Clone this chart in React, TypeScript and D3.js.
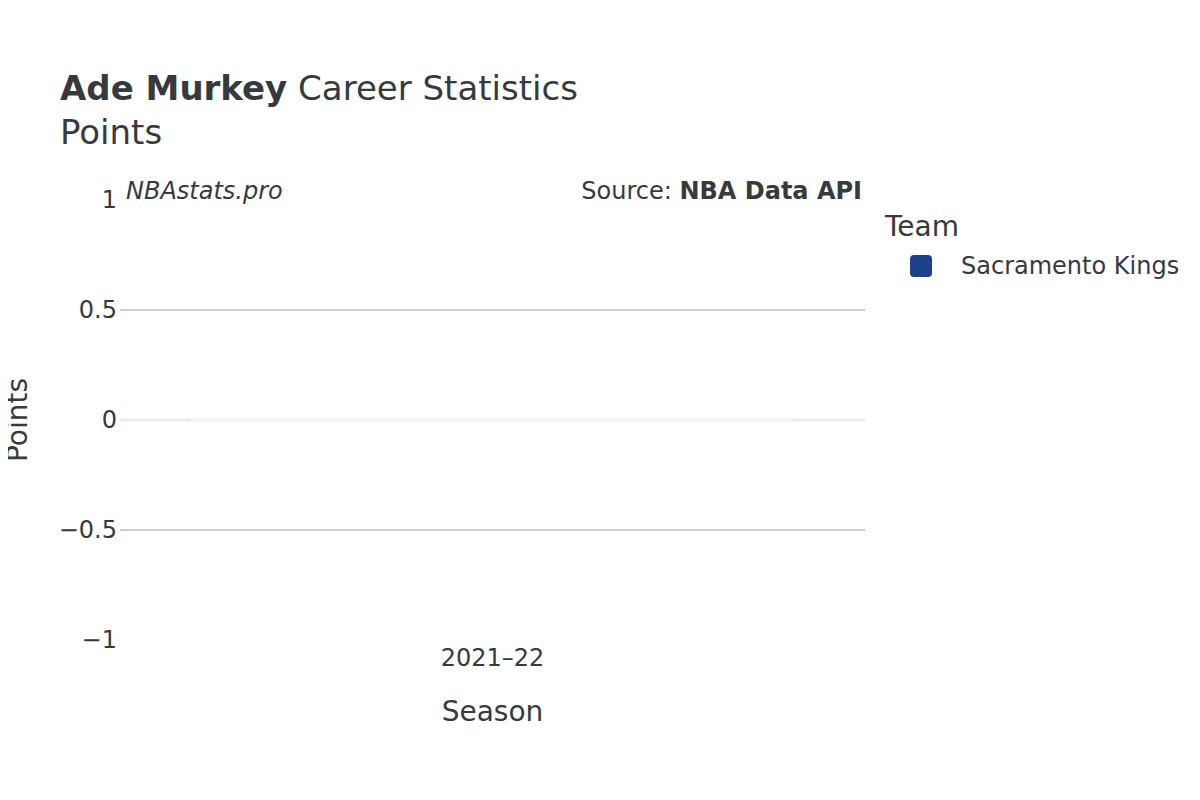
import { useEffect, useRef } from 'react';
import * as d3 from 'd3';

const seasons = ['2021–22'];
const teams = ['Sacramento Kings'];
const teamColors = ['#1d428a'];
const points = [0];
const yTicks = [-1, -0.5, 0, 0.5, 1];

const App = () => {
  const svgRef = useRef<SVGSVGElement>(null);

  useEffect(() => {
    const width = 1200;
    const height = 800;
    const margin = { top: 200, right: 335, bottom: 160, left: 120 };
    const chartWidth = width - margin.left - margin.right;
    const chartHeight = height - margin.top - margin.bottom;
    const font = '"DejaVu Sans", "Open Sans", sans-serif';
    const textColor = '#363a3d';

    const root = d3.select(svgRef.current);
    root.selectAll('*').remove();
    root.attr('width', width).attr('height', height).style('font-family', font);

    root.append('rect').attr('width', width).attr('height', height).attr('fill', '#fff');

    const svg = root.append('g').attr('transform', `translate(${margin.left},${margin.top})`);

    const xScale = d3.scaleBand()
      .domain(seasons)
      .range([0, chartWidth])
      .paddingInner(0.19)
      .paddingOuter(0.095);
    const yScale = d3.scaleLinear().domain([-1, 1]).range([chartHeight, 0]);

    // grid lines
    svg.append('g')
      .selectAll('line')
      .data(yTicks.filter(t => t !== 0 && Math.abs(t) !== 1))
      .enter()
      .append('line')
      .attr('x1', 0)
      .attr('x2', chartWidth)
      .attr('y1', d => yScale(d))
      .attr('y2', d => yScale(d))
      .attr('stroke', '#bdbdbd')
      .attr('stroke-width', 1.5);

    // zero line
    svg.append('line')
      .attr('x1', 0)
      .attr('x2', chartWidth)
      .attr('y1', yScale(0))
      .attr('y2', yScale(0))
      .attr('stroke', '#ececec')
      .attr('stroke-width', 3);

    // bars (zero height)
    svg.selectAll('.bar')
      .data(points)
      .enter()
      .append('rect')
      .attr('class', 'bar')
      .attr('x', (_, i) => xScale(seasons[i]) || 0)
      .attr('y', d => Math.min(yScale(d), yScale(0)) - 1)
      .attr('width', xScale.bandwidth())
      .attr('height', d => Math.abs(yScale(d) - yScale(0)) + 1.5)
      .attr('fill', '#f6f6f6');

    // y tick labels
    svg.append('g')
      .selectAll('text')
      .data(yTicks)
      .enter()
      .append('text')
      .attr('x', -3)
      .attr('y', d => yScale(d))
      .attr('dy', '0.35em')
      .attr('text-anchor', 'end')
      .attr('font-size', '24px')
      .attr('fill', textColor)
      .text(d => (d < 0 ? '−' + Math.abs(d) : String(d)));

    // x tick labels
    svg.append('g')
      .selectAll('text')
      .data(seasons)
      .enter()
      .append('text')
      .attr('x', d => (xScale(d) || 0) + xScale.bandwidth() / 2)
      .attr('y', chartHeight + 26)
      .attr('text-anchor', 'middle')
      .attr('font-size', '24px')
      .attr('fill', textColor)
      .text(d => d);

    // axis titles
    svg.append('text')
      .attr('x', chartWidth / 2)
      .attr('y', chartHeight + 81)
      .attr('text-anchor', 'middle')
      .attr('font-size', '28px')
      .attr('fill', textColor)
      .text('Season');

    svg.append('text')
      .attr('transform', `translate(${-93},${chartHeight / 2}) rotate(-90)`)
      .attr('text-anchor', 'middle')
      .attr('font-size', '28px')
      .attr('fill', textColor)
      .text('Points');

    // title
    const title = root.append('text')
      .attr('x', 60)
      .attr('y', 100)
      .attr('font-size', '34px')
      .attr('fill', textColor);
    title.append('tspan').attr('font-weight', 'bold').text('Ade Murkey');
    title.append('tspan').text(' Career Statistics');

    root.append('text')
      .attr('x', 60)
      .attr('y', 144)
      .attr('font-size', '34px')
      .attr('fill', textColor)
      .text('Points');

    // watermark + source
    root.append('text')
      .attr('x', 126)
      .attr('y', 199)
      .attr('font-size', '24px')
      .attr('font-style', 'italic')
      .attr('fill', textColor)
      .text('NBAstats.pro');

    const source = root.append('text')
      .attr('x', 862)
      .attr('y', 199)
      .attr('text-anchor', 'end')
      .attr('font-size', '24px')
      .attr('fill', textColor);
    source.append('tspan').text('Source: ');
    source.append('tspan').attr('font-weight', 'bold').text('NBA Data API');

    // legend
    const legend = root.append('g').attr('transform', 'translate(885,0)');
    legend.append('text')
      .attr('x', 0)
      .attr('y', 236)
      .attr('font-size', '28px')
      .attr('fill', textColor)
      .text('Team');

    const items = legend.selectAll('.item')
      .data(teams)
      .enter()
      .append('g')
      .attr('class', 'item')
      .attr('transform', (_, i) => `translate(0,${266 + i * 38})`);

    items.append('rect')
      .attr('x', 25)
      .attr('y', -11)
      .attr('width', 22)
      .attr('height', 22)
      .attr('rx', 4)
      .attr('fill', (_, i) => teamColors[i]);

    items.append('text')
      .attr('x', 76)
      .attr('y', 0)
      .attr('dy', '0.35em')
      .attr('font-size', '24px')
      .attr('fill', textColor)
      .text(d => d);
  }, []);

  return (
    <div style={{ width: 1200, height: 800, margin: -8 }}>
      <svg ref={svgRef}></svg>
    </div>
  );
};

export default App;
